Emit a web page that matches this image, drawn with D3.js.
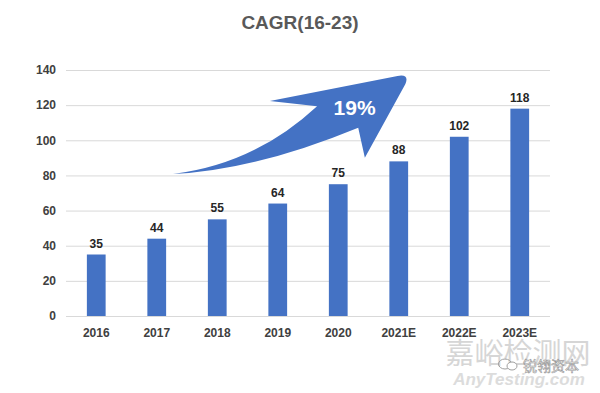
<!DOCTYPE html>
<html>
<head>
<meta charset="utf-8">
<script src="https://cdn.jsdelivr.net/npm/d3@7"></script>
<style>
  body { margin: 0; background: #fff; }
  svg { display: block; font-family: "Liberation Sans", Arial, sans-serif; }
</style>
</head>
<body>
<svg id="mySvg" width="600" height="393"></svg>
<script>
// chart data
var categories = ["2016", "2017", "2018", "2019", "2020", "2021E", "2022E", "2023E"];
var values = [35, 44, 55, 64, 75, 88, 102, 118];
var yTicks = [0, 20, 40, 60, 80, 100, 120, 140];
var title = "CAGR(16-23)";
var cagrLabel = "19%";

var width = 600, height = 393;
var marginLeft = 66, marginRight = 50, marginTop = 70, marginBottom = 77;

var svg = d3.select("#mySvg");

var x = d3.scaleBand()
    .domain(categories)
    .range([marginLeft, width - marginRight])
    .paddingInner(0.69)
    .paddingOuter(0.345);

var y = d3.scaleLinear()
    .domain([0, 140])
    .range([height - marginBottom, marginTop]);

// gridlines
svg.append("g")
  .selectAll("line")
  .data(yTicks)
  .join("line")
    .attr("x1", marginLeft)
    .attr("x2", width - marginRight)
    .attr("y1", d => y(d) + 0.5)
    .attr("y2", d => y(d) + 0.5)
    .attr("stroke", "#d9d9d9")
    .attr("stroke-width", 1);

// y axis labels
var yAxis = d3.axisLeft(y).tickValues(yTicks).tickSize(0).tickPadding(10);
svg.append("g")
    .attr("transform", `translate(${marginLeft},0)`)
    .call(yAxis)
    .call(g => g.select(".domain").remove())
    .call(g => g.selectAll("text")
        .attr("fill", "#404040")
        .attr("font-size", 12)
        .attr("font-weight", "bold")
        .attr("font-family", "Liberation Sans, Arial, sans-serif"));

// x axis labels
var xAxis = d3.axisBottom(x).tickSize(0).tickPadding(12);
svg.append("g")
    .attr("transform", `translate(0,${y(0)})`)
    .call(xAxis)
    .call(g => g.select(".domain").remove())
    .call(g => g.selectAll("text")
        .attr("fill", "#404040")
        .attr("font-size", 12)
        .attr("font-weight", "bold")
        .attr("font-family", "Liberation Sans, Arial, sans-serif"));

// bars
svg.append("g")
  .selectAll("rect")
  .data(values)
  .join("rect")
    .attr("x", (d, i) => x(categories[i]))
    .attr("y", d => y(d))
    .attr("width", x.bandwidth())
    .attr("height", d => y(0) - y(d))
    .attr("fill", "#4472c4");

// value labels
svg.append("g")
  .selectAll("text")
  .data(values)
  .join("text")
    .attr("x", (d, i) => x(categories[i]) + x.bandwidth() / 2)
    .attr("y", d => y(d) - 7)
    .attr("text-anchor", "middle")
    .attr("fill", "#262626")
    .attr("font-size", 12)
    .attr("font-weight", "bold")
    .text(d => d);

// CAGR arrow, positioned in category / value space
var step = x.step();
var cx = i => x(categories[0]) + x.bandwidth() / 2 + step * i;
var P = (i, v) => [cx(i), y(v)];
var tail = P(1.27, 80.8), upCtl = P(2.62, 86.5), upEnd = P(3.65, 119.4),
    barbL = P(2.87, 122.3), tipA = P(4.98, 136.6), tipC = P(5.18, 137.8),
    tipB = P(5.11, 132.1), barbR = P(4.44, 90.1), inner = P(4.33, 107.2),
    loCtl = P(2.63, 83.1);
var arrow = d3.path();
arrow.moveTo(...tail);
arrow.quadraticCurveTo(...upCtl, ...upEnd);
arrow.lineTo(...barbL);
arrow.lineTo(...tipA);
arrow.quadraticCurveTo(...tipC, ...tipB);
arrow.lineTo(...barbR);
arrow.lineTo(...inner);
arrow.quadraticCurveTo(...loCtl, ...tail);
arrow.closePath();
svg.append("path")
    .attr("d", arrow.toString())
    .attr("fill", "#4472c4");

svg.append("text")
    .attr("x", cx(4.27))
    .attr("y", y(114.6))
    .attr("text-anchor", "middle")
    .attr("fill", "#fff")
    .attr("font-size", 21)
    .attr("font-weight", "bold")
    .text(cagrLabel);

// title
svg.append("text")
    .attr("x", width / 2)
    .attr("y", 29)
    .attr("text-anchor", "middle")
    .attr("fill", "#595959")
    .attr("font-size", 19)
    .attr("font-weight", "bold")
    .text(title);

// watermark
svg.append("text")
    .attr("x", 518)
    .attr("y", 364)
    .attr("text-anchor", "middle")
    .attr("fill", "#d6d6d6")
    .attr("font-size", 29)
    .attr("font-family", "Noto Sans CJK SC")
    .text("嘉峪检测网");
svg.append("text")
    .attr("x", 519)
    .attr("y", 385)
    .attr("text-anchor", "middle")
    .attr("fill", "#dcdcdc")
    .attr("font-size", 17)
    .attr("font-style", "italic")
    .attr("font-weight", "bold")
    .text("AnyTesting.com");
svg.append("text")
    .attr("x", 523)
    .attr("y", 371)
    .attr("fill", "#ffffff")
    .attr("stroke", "#9a9a9a")
    .attr("stroke-width", 0.6)
    .attr("font-size", 14)
    .attr("font-family", "Noto Sans CJK SC")
    .text("锐翎资本");
svg.append("ellipse")
    .attr("cx", 505).attr("cy", 364).attr("rx", 6.5).attr("ry", 5)
    .attr("fill", "none").attr("stroke", "#a0a0a0").attr("stroke-width", 1);
svg.append("ellipse")
    .attr("cx", 512).attr("cy", 366).attr("rx", 5).attr("ry", 4)
    .attr("fill", "#fff").attr("stroke", "#a0a0a0").attr("stroke-width", 1);
</script>
</body>
</html>
